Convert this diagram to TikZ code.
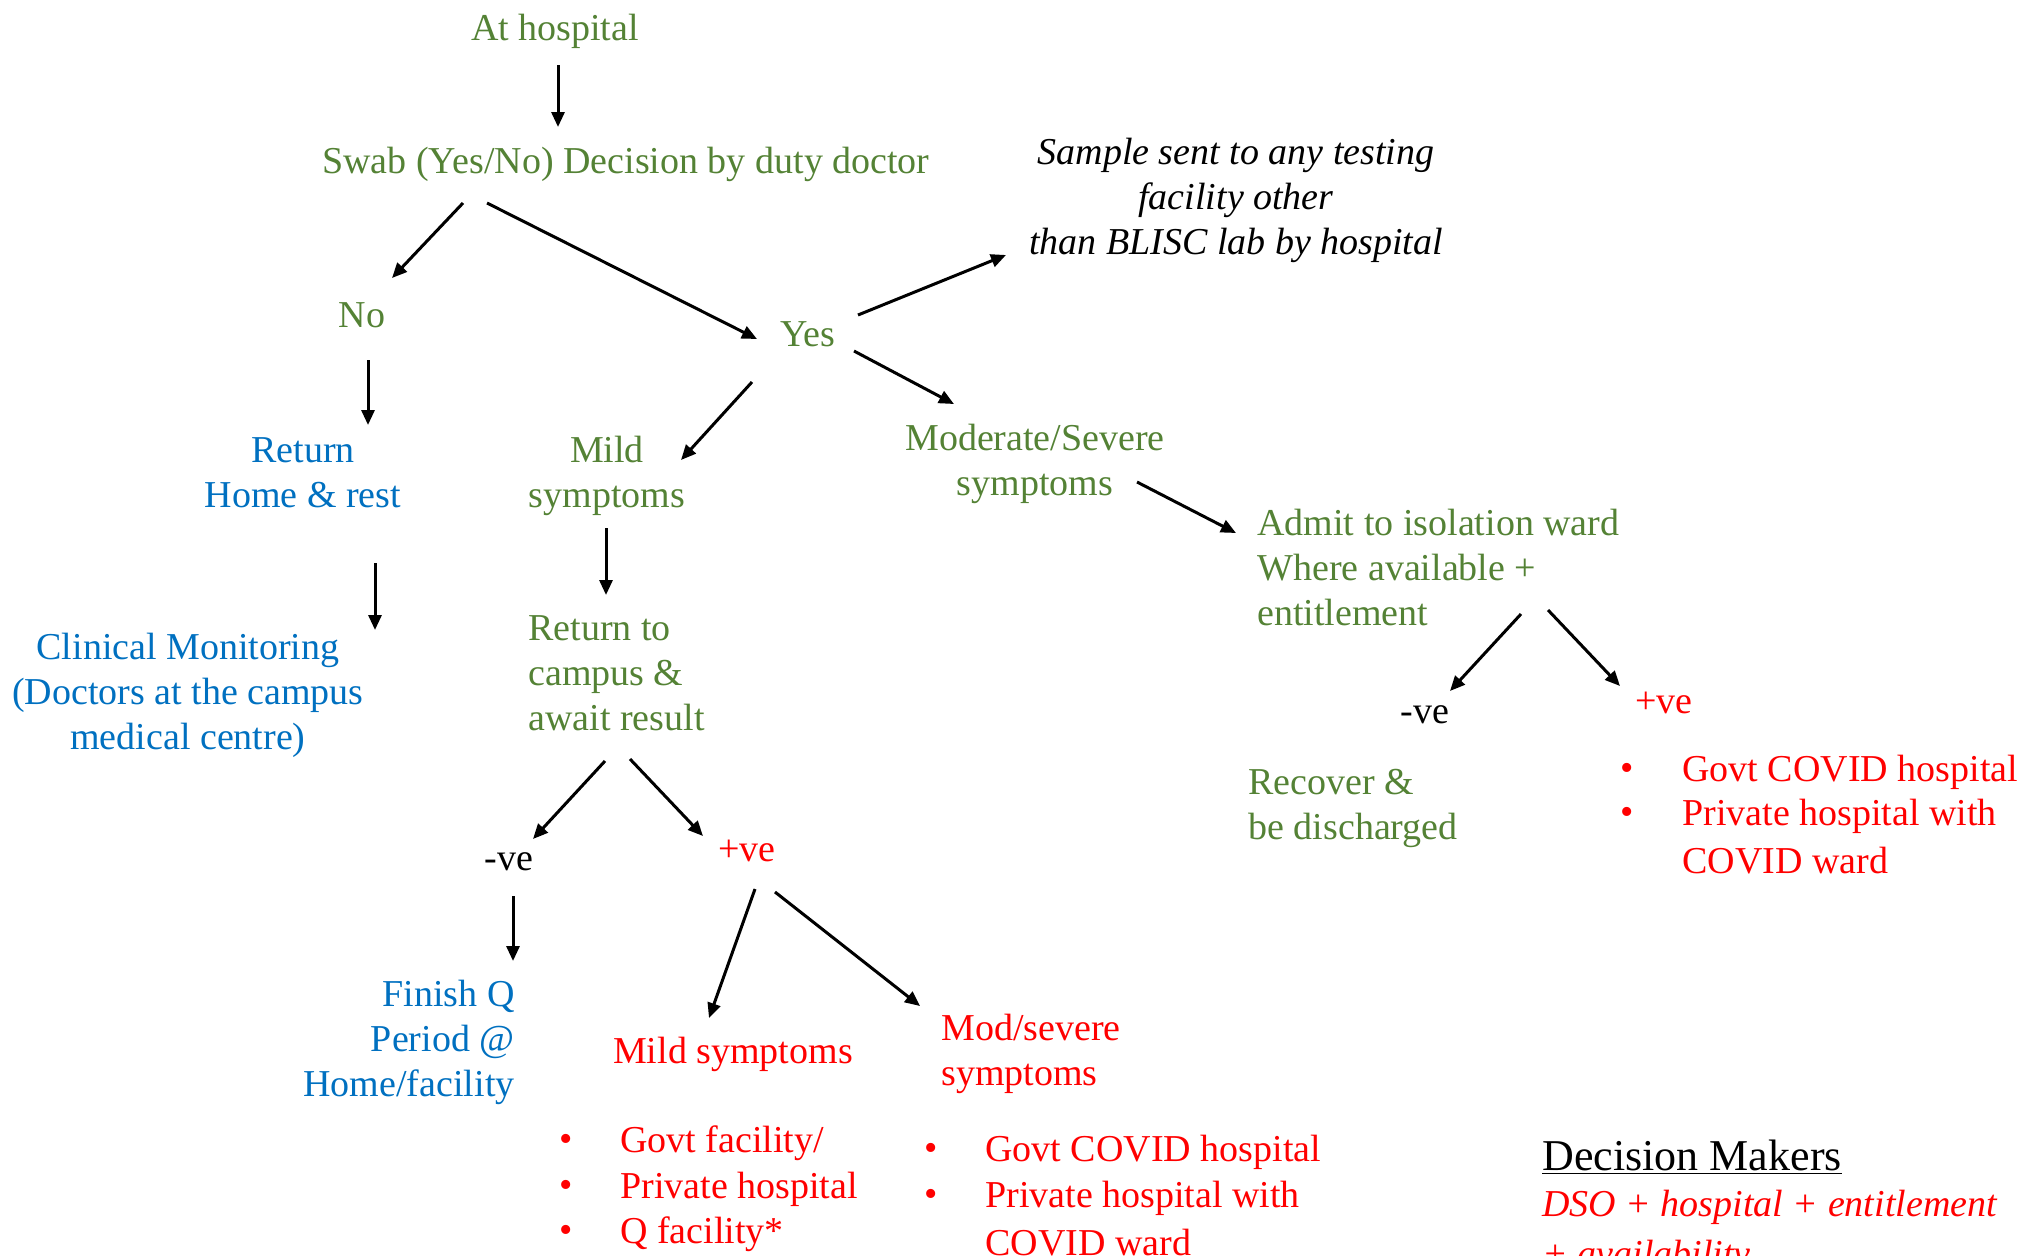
\documentclass[tikz,border=0pt]{standalone}
\usepackage{fontspec}
\setmainfont{Liberation Serif}
\usetikzlibrary{arrows.meta}
\definecolor{ggreen}{HTML}{548235}
\definecolor{bblue}{HTML}{0070C0}
\definecolor{rred}{HTML}{FF0000}
\tikzset{
  lbl/.style={inner sep=0pt, yshift=-2pt, font=\fontsize{19}{22.5}\selectfont},
  gtxt/.style={lbl, text=ggreen},
  btxt/.style={lbl, text=bblue},
  rtxt/.style={lbl, text=rred},
  ktxt/.style={lbl, text=black},
  arr/.style={-{Triangle[length=7.5pt,width=6.5pt]}, line width=1.5pt, black},
}
\begin{document}
\begin{tikzpicture}[x=0.5pt,y=-0.5pt]
\clip (0,0) rectangle (2030,1255);
% ---------------- nodes ----------------
\node[gtxt] (hosp) at (555,27) {At hospital};
\node[gtxt] (swab) at (626,160) {Swab (Yes/No) Decision by duty doctor};
\node[gtxt] (no) at (362,311) {No};
\node[gtxt] (yes) at (808,330) {Yes};
\node[ktxt, align=center, font=\fontsize{19}{22.5}\selectfont\itshape] (sample) at (1236,196)
  {Sample sent to any testing\\facility other\\than BLISC lab by hospital};
\node[btxt, align=center] (home) at (303,469) {Return\\Home \& rest};
\node[btxt, align=center] (clin) at (188,691) {Clinical Monitoring\\(Doctors at the campus\\medical centre)};
\node[gtxt, align=center] (mild) at (607,472) {Mild\\symptoms};
\node[gtxt, align=left, anchor=west] (retc) at (528,669) {Return to\\campus \&\\await result};
\node[ktxt] (neg1) at (509,858) {-ve};
\node[rtxt] (pos1) at (747,847) {+ve};
\node[btxt, align=right, anchor=east] (fin) at (515,1038) {Finish Q\\Period @\hspace*{5pt}\\Home/facility};
\node[rtxt] (milds) at (733,1050) {Mild symptoms};
\node[rtxt, align=left, anchor=west] (mods) at (941,1050) {Mod/severe\\symptoms};
% list 1
\node[rtxt] (l1b1) at (566,1139) {•};
\node[rtxt] (l1b2) at (566,1185) {•};
\node[rtxt] (l1b3) at (566,1230) {•};
\node[rtxt, anchor=west] (l1t1) at (620,1139) {Govt facility/};
\node[rtxt, anchor=west] (l1t2) at (620,1185) {Private hospital};
\node[rtxt, anchor=west] (l1t3) at (620,1230) {Q facility*};
% list 2
\node[rtxt] (l2b1) at (931,1148) {•};
\node[rtxt] (l2b2) at (931,1194) {•};
\node[rtxt, anchor=west] (l2t1) at (985,1148) {Govt COVID hospital};
\node[rtxt, anchor=west] (l2t2) at (985,1194) {Private hospital with};
\node[rtxt, anchor=west] (l2t3) at (985,1239) {COVID ward};
% right branch
\node[gtxt, align=center] (mod) at (1035,460) {Moderate/Severe\\symptoms};
\node[gtxt, align=left, anchor=west] (admit) at (1257,563) {Admit to isolation ward\\Where available +\\entitlement};
\node[ktxt] (neg2) at (1425,711) {-ve};
\node[rtxt] (pos2) at (1664,699) {+ve};
\node[gtxt, align=left, anchor=west] (recov) at (1248,804) {Recover \&\\be discharged};
% list 3
\node[rtxt] (l3b1) at (1627,768) {•};
\node[rtxt] (l3b2) at (1627,812) {•};
\node[rtxt, anchor=west] (l3t1) at (1682,768) {Govt COVID hospital};
\node[rtxt, anchor=west] (l3t2) at (1682,812) {Private hospital with};
\node[rtxt, anchor=west] (l3t3) at (1682,857) {COVID ward};
% decision makers
\node[ktxt, anchor=west, font=\fontsize{22}{26}\selectfont] (dm) at (1542,1153) {\underline{Decision Makers}};
\node[rtxt, anchor=north west, align=left, font=\fontsize{19}{25}\selectfont\itshape] (dso) at (1542,1186)
  {DSO + hospital + entitlement\\+ availability};
% ---------------- connector ends ----------------
\coordinate (hosp-out) at (558,65);   \coordinate (swab-in) at (558,127);
\coordinate (swab-outA) at (463,203); \coordinate (no-in) at (392,278);
\coordinate (swab-outB) at (487,203); \coordinate (yes-in) at (757,339);
\coordinate (yes-outA) at (858,315);  \coordinate (sample-in) at (1006,255);
\coordinate (yes-outB) at (752,382);  \coordinate (mild-in) at (681,460);
\coordinate (yes-outC) at (854,351);  \coordinate (mod-in) at (954,404);
\coordinate (no-out) at (368,360);    \coordinate (home-in) at (368,425);
\coordinate (home-out) at (375,563);  \coordinate (clin-in) at (375,630);
\coordinate (mild-out) at (606,528);  \coordinate (retc-in) at (606,595);
\coordinate (retc-outA) at (605,761); \coordinate (neg1-in) at (533,839);
\coordinate (retc-outB) at (630,759); \coordinate (pos1-in) at (703,836);
\coordinate (neg1-out) at (513,896);  \coordinate (fin-in) at (513,961);
\coordinate (pos1-outA) at (755,889); \coordinate (milds-in) at (709,1018);
\coordinate (pos1-outB) at (775,892); \coordinate (mods-in) at (920,1006);
\coordinate (mod-out) at (1137,482);  \coordinate (admit-in) at (1236,533);
\coordinate (admit-outA) at (1521,614); \coordinate (neg2-in) at (1450,691);
\coordinate (admit-outB) at (1548,610); \coordinate (pos2-in) at (1620,686);
% ---------------- connectors ----------------
\draw[arr] (hosp-out) -- (swab-in);
\draw[arr] (swab-outA) -- (no-in);
\draw[arr] (swab-outB) -- (yes-in);
\draw[arr] (yes-outA) -- (sample-in);
\draw[arr] (yes-outB) -- (mild-in);
\draw[arr] (yes-outC) -- (mod-in);
\draw[arr] (no-out) -- (home-in);
\draw[arr] (home-out) -- (clin-in);
\draw[arr] (mild-out) -- (retc-in);
\draw[arr] (retc-outA) -- (neg1-in);
\draw[arr] (retc-outB) -- (pos1-in);
\draw[arr] (neg1-out) -- (fin-in);
\draw[arr] (pos1-outA) -- (milds-in);
\draw[arr] (pos1-outB) -- (mods-in);
\draw[arr] (mod-out) -- (admit-in);
\draw[arr] (admit-outA) -- (neg2-in);
\draw[arr] (admit-outB) -- (pos2-in);
\end{tikzpicture}
\end{document}
